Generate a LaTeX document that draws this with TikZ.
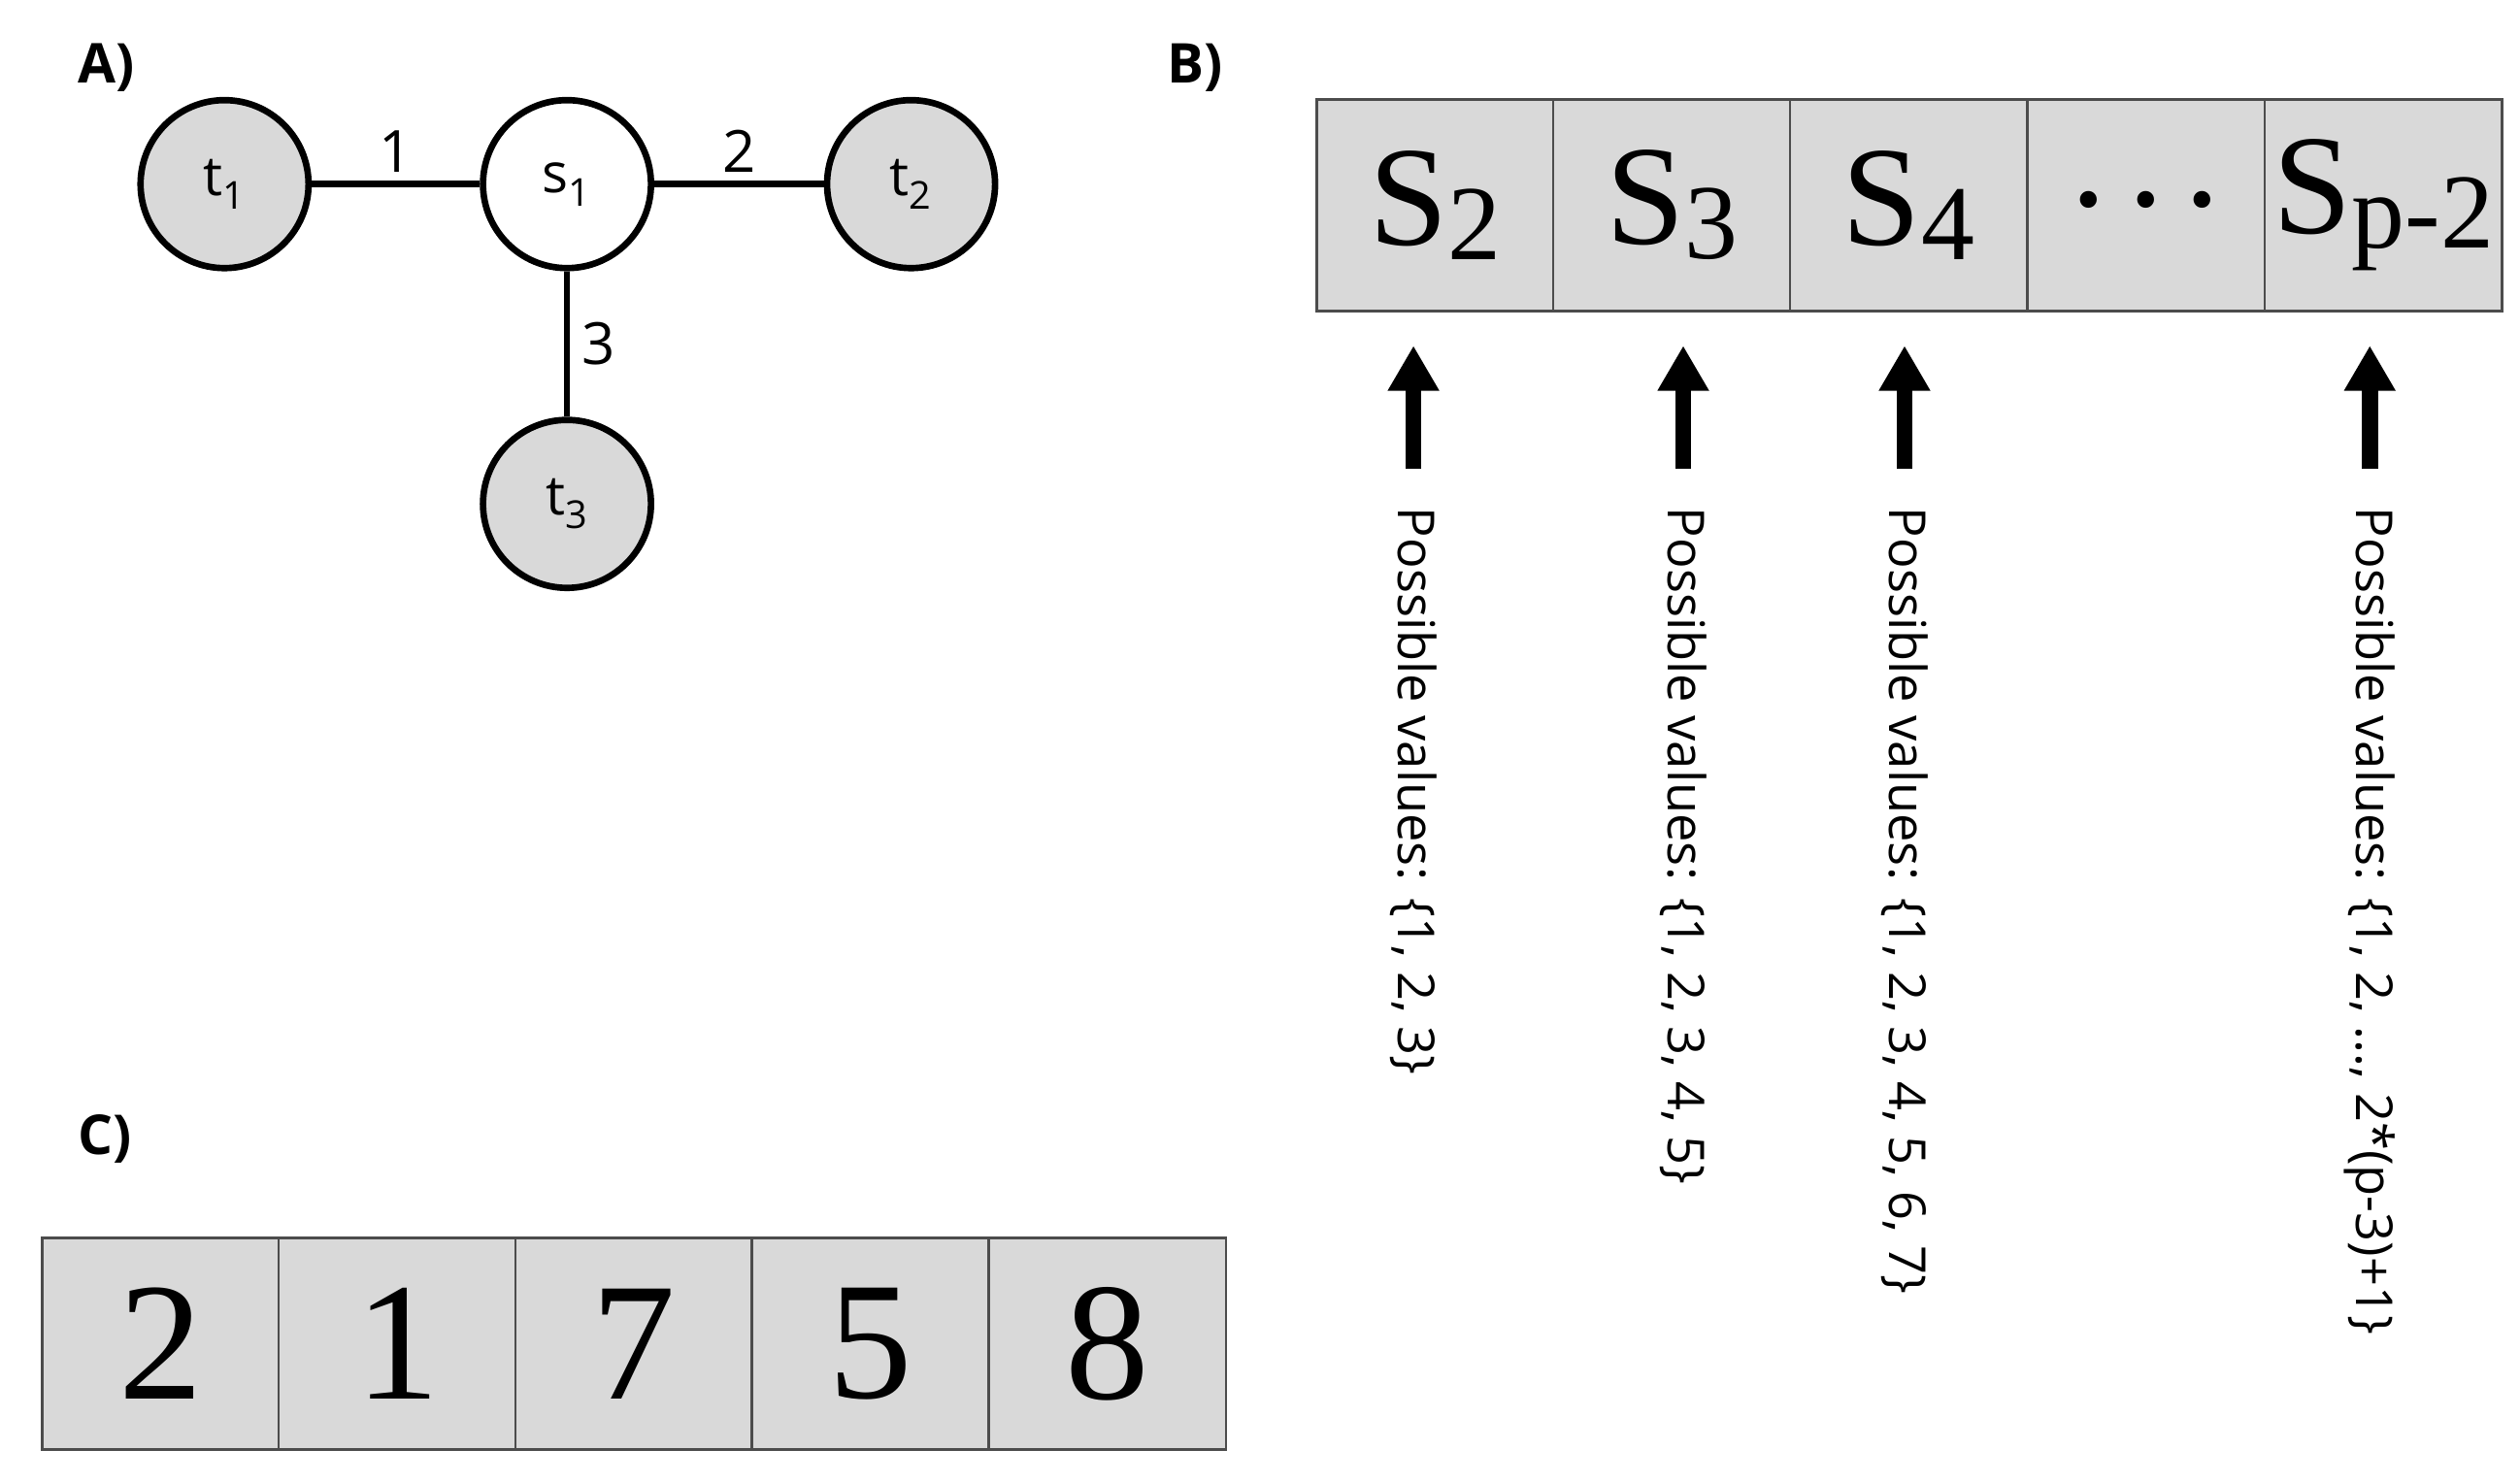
\documentclass[tikz,border=0pt]{standalone}
\usepackage{fontspec}
\setmainfont{Open Sans}
\newfontfamily\serifx{Liberation Serif}
\usetikzlibrary{arrows.meta}
\begin{document}
\begin{tikzpicture}[x=1pt,y=-1pt,
 vert/.style={circle,draw,line width=4pt,minimum size=104pt,inner sep=0pt,font=\fontsize{34}{34}\selectfont},
 term/.style={vert,fill=gray!30},
 edge/.style={line width=4pt},
 lab/.style={font=\bfseries\fontsize{34}{34}\selectfont},
 elab/.style={font=\fontsize{36}{36}\selectfont},
 cell/.style={draw=black!70,line width=1.5pt,fill=gray!30,minimum width=147pt,minimum height=131pt,inner sep=0pt},
 sc/.style={cell,font=\serifx\fontsize{88}{88}\selectfont},
 dc/.style={cell,font=\serifx\fontsize{104}{104}\selectfont},
 up/.style={line width=10pt,-{Triangle[width=30pt,length=28pt]}},
 pv/.style={rotate=-90,anchor=west,font=\fontsize{31.5}{31.5}\selectfont,inner sep=0pt}]
\useasboundingbox (0,0) rectangle (1560,918);
\node[lab] (la) at (66,42) {A)};
\node[lab] (lb) at (740,42) {B)};
\node[lab] (lc) at (65,705) {C)};
\node[term] (t1) at (139,114) {t\textsubscript{1}};
\node[vert] (s1) at (351,114) {s\textsubscript{1}};
\node[term] (t2) at (564,114) {t\textsubscript{2}};
\node[term] (t3) at (351,312) {t\textsubscript{3}};
\draw[edge] (t1) -- node[elab,above=2pt] {1} (s1);
\draw[edge] (s1) -- node[elab,above=2pt] {2} (t2);
\draw[edge] (s1) -- node[elab,right=4pt] {3} (t3);
\newcommand\sub[1]{{\fontsize{66}{66}\selectfont\raisebox{-0.3ex}{#1}}}
\node[sc] (b1) at (888.5,127) {S\sub{2}};
\node[sc] (b2) at (1035,127) {S\sub{3}};
\node[sc] (b3) at (1181.5,127) {S\sub{4}};
\node[sc] (b4) at (1328.5,127) {\raisebox{0.2ex}{.\hspace{0.15em}.\hspace{0.15em}.}};
\node[sc] (b5) at (1475.5,127) {S\sub{p-2}};
\foreach \x/\t [count=\i] in {875/{1, 2, 3},1042/{1, 2, 3, 4, 5},1179/{1, 2, 3, 4, 5, 6, 7},1467/{1, 2, ..., 2*(p-3)+1}}{
 \coordinate (a\i) at (\x,290);
 \coordinate (h\i) at (\x,214);
 \draw[up] (a\i) -- (h\i);
 \node[pv] (p\i) at (\x,314) {Possible values: \{\t\}};
}
\node[dc] (c1) at (99.5,832) {2};
\node[dc] (c2) at (246,832) {1};
\node[dc] (c3) at (392.5,832) {7};
\node[dc] (c4) at (539,832) {5};
\node[dc] (c5) at (685.5,832) {8};
\end{tikzpicture}
\end{document}
